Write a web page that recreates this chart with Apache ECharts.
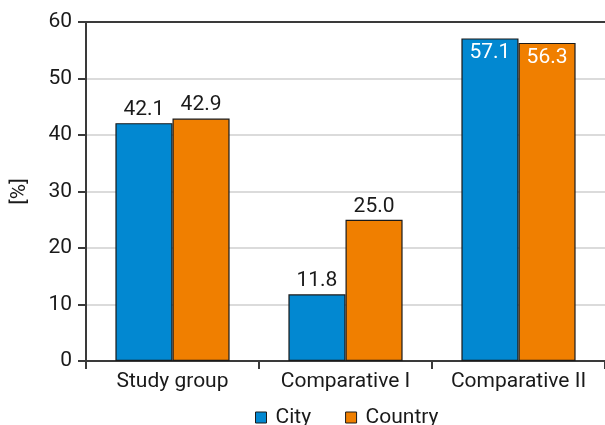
<!DOCTYPE html>
<html>
<head>
<meta charset="utf-8">
<script src="https://cdn.jsdelivr.net/npm/echarts@6/dist/echarts.min.js"></script>
<style>
  html, body { margin: 0; padding: 0; background: #fff; }
  #chart { width: 605px; height: 425px; }
</style>
</head>
<body>
<div id="chart"></div>
<script>
// Share of respondents by group, split by place of residence
const categories = ['Study group', 'Comparative I', 'Comparative II'];
const cityValues = [42.1, 11.8, 57.1];
const countryValues = [42.9, 25.0, 56.3];
const seriesNames = ['City', 'Country'];
const yTicks = { min: 0, max: 60, interval: 10 };

const FONT = 'Roboto, "Noto Sans", sans-serif';
const FS = 21;
const BLUE = '#0288d1';
const ORANGE = '#f07f00';
const INK = '#1a1a1a';
const AXIS = '#3a3a3a';

// labels on the tallest bars sit inside the bar top in white
function labelFor(v) {
  return v > 55
    ? { show: true, position: 'insideTop', color: '#fff', distance: 4 }
    : { show: true, position: 'top', color: INK, distance: 3 };
}

function makeData(values) {
  return values.map(v => ({ value: v, label: labelFor(v) }));
}

const chart = echarts.init(document.getElementById('chart'), null, { renderer: 'canvas' });
chart.setOption({
  animation: false,
  textStyle: { fontFamily: FONT },
  grid: { left: 86, right: 0, top: 22, bottom: 64 },
  legend: {
    data: seriesNames,
    top: 402,
    left: 250,
    itemWidth: 11,
    itemHeight: 11,
    itemGap: 34,
    icon: 'rect',
    itemStyle: { borderColor: INK, borderWidth: 1 },
    textStyle: { fontFamily: FONT, fontSize: FS, color: INK, padding: [0, 0, 0, 4] }
  },
  xAxis: [{
    type: 'category',
    data: categories,
    axisLine: { lineStyle: { color: AXIS, width: 2 } },
    axisTick: { show: true, length: 8, lineStyle: { color: AXIS, width: 2 } },
    axisLabel: { interval: 0, fontFamily: FONT, fontSize: FS, color: INK, margin: 10 }
  }, {
    type: 'category',
    position: 'top',
    data: categories,
    axisLine: { show: true, lineStyle: { color: AXIS, width: 2 } },
    axisTick: { show: false },
    axisLabel: { show: false }
  }],
  yAxis: {
    type: 'value',
    min: yTicks.min,
    max: yTicks.max,
    interval: yTicks.interval,
    name: '[%]',
    nameLocation: 'middle',
    nameGap: 56,
    nameTextStyle: { fontFamily: FONT, fontSize: FS, color: INK },
    axisLine: { show: true, lineStyle: { color: AXIS, width: 2 } },
    axisTick: { show: true, length: 8, lineStyle: { color: AXIS, width: 2 } },
    axisLabel: { fontFamily: FONT, fontSize: FS, color: INK, margin: 14 },
    splitLine: { show: true, lineStyle: { color: '#cfcfcf', width: 1.5 } }
  },
  series: [{
    name: seriesNames[0],
    type: 'bar',
    data: makeData(cityValues),
    barGap: '0%',
    barCategoryGap: '34%',
    itemStyle: { color: BLUE, borderColor: INK, borderWidth: 1.2 },
    label: { fontFamily: FONT, fontSize: FS, formatter: p => p.value.toFixed(1) }
  }, {
    name: seriesNames[1],
    type: 'bar',
    data: makeData(countryValues),
    barGap: '0%',
    barCategoryGap: '34%',
    itemStyle: { color: ORANGE, borderColor: INK, borderWidth: 1.2 },
    label: { fontFamily: FONT, fontSize: FS, formatter: p => p.value.toFixed(1) }
  }]
});
</script>
</body>
</html>
